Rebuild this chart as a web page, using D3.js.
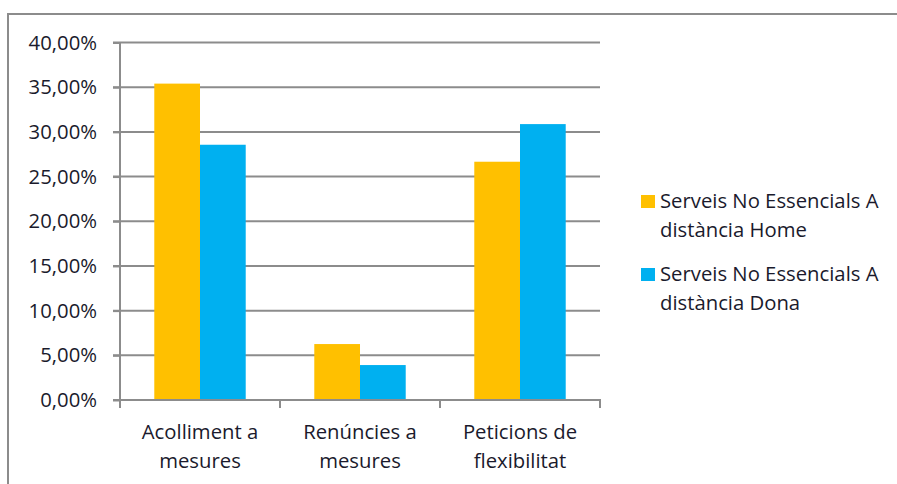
<!DOCTYPE html>
<html><head><meta charset="utf-8">
<script src="https://cdn.jsdelivr.net/npm/d3@7"></script>
<style>body{margin:0;background:#fff}svg{display:block}text{font-family:"Open Sans","Noto Sans",sans-serif;fill:#1a1a2c}</style>
</head><body><svg id="c" width="897" height="484"></svg>
<script>
const categories = [["Acolliment a","mesures"],["Renúncies a","mesures"],["Peticions de","flexibilitat"]];
const seriesNames = [["Serveis No Essencials A","distància Home"],["Serveis No Essencials A","distància Dona"]];
const homeValues = [0.354, 0.0626, 0.2666];
const donaValues = [0.2856, 0.0391, 0.3087];
const colors = ["#FFC000", "#00B0F0"];
const yTicks = [0,0.05,0.10,0.15,0.20,0.25,0.30,0.35,0.40];

const svg = d3.select("#c");
const grey = "#8c8c8c";
const FS = 20.3;
// outer frame
svg.append("rect").attr("x",8).attr("y",14).attr("width",900).attr("height",480)
  .attr("fill","none").attr("stroke",grey).attr("stroke-width",2);

const x0 = d3.scaleBand().domain(d3.range(categories.length)).range([120,600]).paddingInner(0).paddingOuter(0);
const x1 = d3.scaleBand().domain([0,1]).range([0,x0.bandwidth()]).paddingOuter(0.75).paddingInner(0);
const y = d3.scaleLinear().domain([0,0.40]).range([400,42.5]);

const fmt = v => d3.format(".2f")(v*100).replace(".", ",") + "%";

// gridlines
svg.append("g").selectAll("line").data(yTicks.slice(1)).join("line")
  .attr("x1",113).attr("x2",600).attr("y1",d=>y(d)).attr("y2",d=>y(d))
  .attr("stroke",grey).attr("stroke-width",2);

// bars
const series = [homeValues, donaValues];
series.forEach((vals, si) => {
  svg.append("g").selectAll("rect").data(vals).join("rect")
    .attr("x",(d,i)=>x0(i)+x1(si)).attr("width",x1.bandwidth())
    .attr("y",d=>y(d)).attr("height",d=>y(0)-y(d)).attr("fill",colors[si]);
});

// y axis
const yAxis = d3.axisLeft(y).tickValues(yTicks).tickFormat(fmt).tickSize(7).tickPadding(16);
const gy = svg.append("g").attr("transform","translate(120,0)").call(yAxis);
gy.attr("font-size",null).attr("font-family",null);
gy.select(".domain").attr("stroke",grey).attr("stroke-width",2).attr("d","M0,42.5V400");
gy.selectAll(".tick line").attr("stroke",grey).attr("stroke-width",2);
gy.selectAll(".tick text").attr("font-size",FS).attr("fill","#1a1a2c");

// x axis
const xEdge = d3.scaleLinear().domain([0,3]).range([120,600]);
const gx = svg.append("g");
gx.append("line").attr("x1",113).attr("x2",601).attr("y1",y(0)).attr("y2",y(0)).attr("stroke",grey).attr("stroke-width",2);
gx.selectAll("line.t").data(d3.range(4)).join("line").attr("class","t")
  .attr("x1",d=>xEdge(d)).attr("x2",d=>xEdge(d)).attr("y1",y(0)).attr("y2",y(0)+8)
  .attr("stroke",grey).attr("stroke-width",2);
gx.selectAll("text").data(categories).join("text")
  .attr("text-anchor","middle").attr("font-size",FS)
  .attr("transform",(d,i)=>`translate(${x0(i)+x0.bandwidth()/2},0)`)
  .each(function(d){
    d3.select(this).selectAll("tspan").data(d).join("tspan")
      .attr("x",0).attr("y",(t,j)=>439+j*28.5).text(t=>t);
  });

// legend
const lg = svg.append("g");
const legendTop = [195, 268];
seriesNames.forEach((lines, si) => {
  lg.append("rect").attr("x",641).attr("y",legendTop[si]).attr("width",14).attr("height",13).attr("fill",colors[si]);
  const t = lg.append("text").attr("font-size",FS);
  lines.forEach((l,j)=>t.append("tspan").attr("x",660).attr("y",legendTop[si]+13+j*28.5).text(l));
});
</script></body></html>
